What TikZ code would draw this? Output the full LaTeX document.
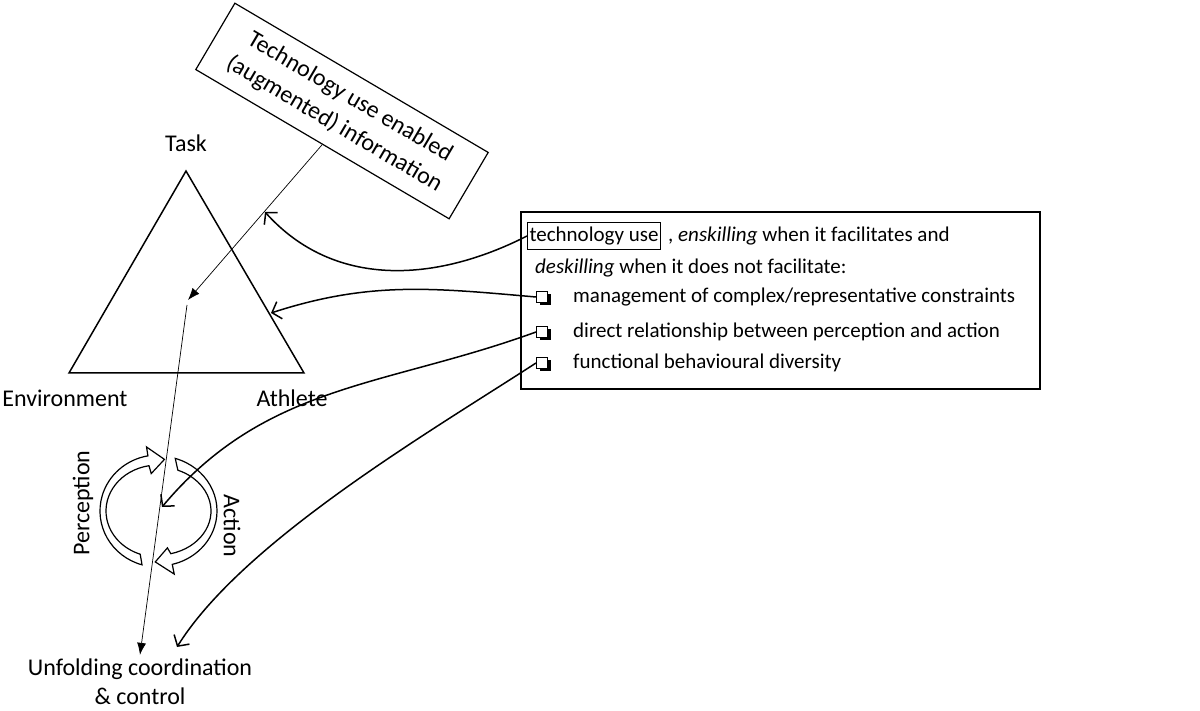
\documentclass[tikz,border=0pt]{standalone}
\usepackage{fontspec}
\setmainfont{Carlito}
\usetikzlibrary{arrows.meta,calc,shadows}
\tikzset{
	every node/.style={
		font=\fontsize{21}{26}\selectfont,
		inner sep=0pt
	},
	tag/.style={
		font=\fontsize{24}{28}\selectfont
	},
	infobox/.style={
		draw,
		line width=1.2pt,
		rotate=-30.5,
		minimum width=294pt,
		minimum height=77pt,
		align=center,
		font=\fontsize{24}{31}\selectfont
	},
	panel/.style={
		draw,
		line width=1.2pt,
		minimum width=519pt,
		minimum height=177pt
	},
	chkbox/.style={
		draw,
		line width=1pt,
		fill=white,
		minimum size=11pt,
		drop shadow={shadow xshift=3pt, shadow yshift=-3pt, opacity=1, fill=black}
	},
	thin arrow/.style={line width=0.7pt, -{Latex[length=12pt,width=9pt]}},
	link/.style={line width=1.5pt, -{Straight Barb[length=8pt,width=18pt]}},
	cyclearrow/.style={draw, line width=1.2pt, fill=white}
}

\begin{document}
\begin{tikzpicture}[x=1pt,y=1pt]
	\useasboundingbox (0,0) rectangle (1200,-711);

	\coordinate (apex) at (186,-171);
	\coordinate (env) at (69,-373);
	\coordinate (ath) at (304,-373);
	\draw[line width=1.5pt] (apex) -- (env) -- (ath) -- cycle;

	\node[tag] (task) at (186,-143) {Task};
	\node[tag] (envlab) at (65,-398) {Environment};
	\node[tag] (athlab) at (292,-398) {Athlete};

	\node[infobox] (info) at (342,-111) {Technology use enabled\\(augmented) information};

	\coordinate (focus) at (188,-300);
	\coordinate (focus2) at (187,-305);
	\node[tag, align=center, font=\fontsize{24}{29}\selectfont] (unfold) at (140,-682) {Unfolding coordination\\\& control};

	% perception-action cycle
	\coordinate (C) at (158,-511);
	\path[cyclearrow] ($(C)+(254:58 and 56)$) arc[start angle=254, end angle=100, x radius=58, y radius=56]
		-- ($(C)+(100:66 and 65)$) -- ($(C)+(83:53 and 52)$) -- ($(C)+(100:39 and 38)$)
		-- ($(C)+(100:52 and 46)$) arc[start angle=100, end angle=250, x radius=52, y radius=46] -- cycle;
	\path[cyclearrow] ($(C)+(73:59 and 55)$) arc[start angle=73, end angle=-76, x radius=59, y radius=55]
		-- ($(C)+(-76:67 and 65)$) -- ($(C)+(-93:52 and 51)$) -- ($(C)+(-76:39 and 38)$)
		-- ($(C)+(-76:53 and 44)$) arc[start angle=-76, end angle=68, x radius=53, y radius=44] -- cycle;
	\node[tag, rotate=90] (perc) at (83,-503) {Perception};
	\node[tag, rotate=-90] (act) at (232,-526) {Action};

	\draw[thin arrow] (info.south) -- (focus);
	\draw[thin arrow] (focus2) -- ([yshift=4pt]unfold.north);

	% right panel
	\node[panel] (box) at (780.5,-300.5) {};
	\node[draw, line width=1pt, inner xsep=2pt, inner ysep=4pt, anchor=west] (tech) at (527,-236) {technology use};
	\node[anchor=west] (line1) at ([xshift=7pt]tech.east) {, \textit{enskilling} when it facilitates and};
	\node[anchor=west] (line2) at (535,-268) {\textit{deskilling} when it does not facilitate:};
	\foreach \name / \y / \txt in {1/297/{management of complex/representative constraints},
		2/332/{direct relationship between perception and action},
		3/363/{functional behavioural diversity}}
	{
		\node[chkbox] (chk\name) at (542,-\y) {};
		\node[anchor=west] (item\name) at (573,-\y) {\txt};
	}

	\coordinate (hit1) at (265,-212);
	\coordinate (hit2) at (271,-313);
	\coordinate (cyc) at (162,-507);
	\coordinate (hit3) at (177,-647);
	\draw[link] (tech.west) to[out=207, in=-48] (hit1);
	\draw[link] (chk1.west) to[out=175, in=18] (hit2);
	\draw[link] (chk2.west) to[out=200, in=50] (cyc);
	\draw[link] (chk3.west) to[out=213, in=58, looseness=0.7] (hit3);
\end{tikzpicture}
\end{document}
